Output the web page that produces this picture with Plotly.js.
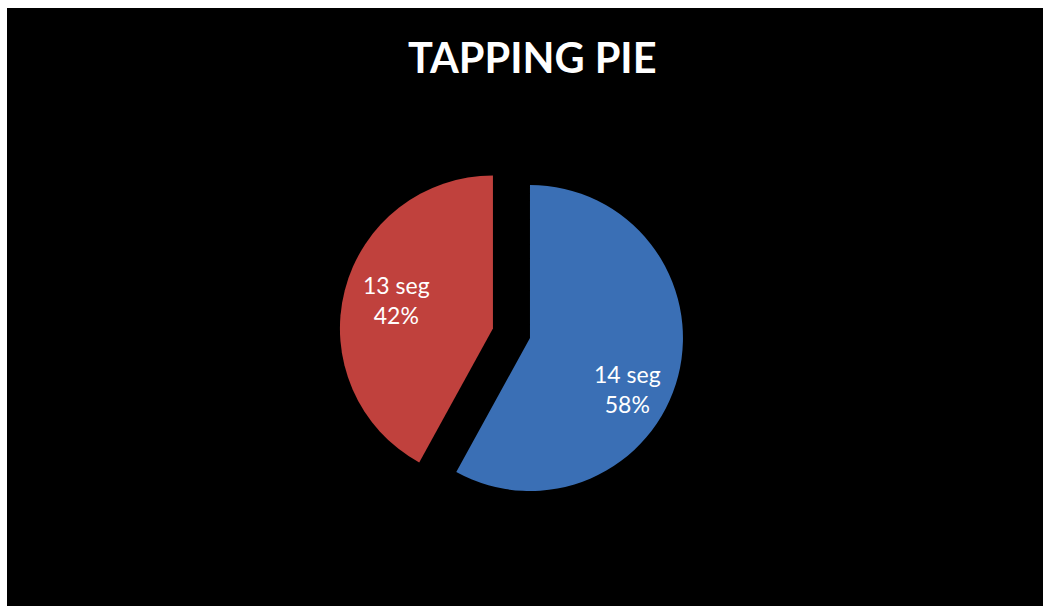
<!DOCTYPE html>
<html>
<head>
<meta charset="utf-8">
<script src="https://cdn.plot.ly/plotly-3.0.1.min.js"></script>
<style>
  html, body { margin: 0; padding: 0; background: #ffffff; }
  #chart { position: absolute; left: 7px; top: 8px; width: 1036px; height: 598px; background: #000; }
</style>
</head>
<body>
<div id="chart"></div>
<script>
const categories = ["14 seg", "13 seg"];
const values = [58, 42];
const sliceColors = ["#3a6fb5", "#c0413d"];
const pulls = [0, 0.25];

const total = values.reduce((a, b) => a + b, 0);
const labelText = categories.map((c, i) => c + "<br>" + Math.round(values[i] / total * 100) + "%");
const labelPos = [ { x: 0.5994, y: 0.3629 }, { x: 0.3764, y: 0.5117 } ];

const data = [{
  type: "pie",
  labels: categories,
  values: values,
  sort: false,
  direction: "clockwise",
  rotation: 0,
  pull: pulls,
  marker: { colors: sliceColors, line: { color: "rgba(0,0,0,0)", width: 0 } },
  textinfo: "none",
  hoverinfo: "none",
  domain: { x: [0.3202, 0.6894], y: [0.1284, 0.768] }
}];

const annotations = labelText.map((t, i) => ({
  text: t,
  x: labelPos[i].x, y: labelPos[i].y,
  xref: "paper", yref: "paper",
  xanchor: "center", yanchor: "middle",
  showarrow: false,
  align: "center",
  font: { family: "Lato, 'Open Sans', sans-serif", size: 23, color: "#ffffff" }
}));

const layout = {
  width: 1036,
  height: 598,
  paper_bgcolor: "#000000",
  plot_bgcolor: "#000000",
  margin: { l: 0, r: 0, t: 0, b: 0 },
  showlegend: false,
  annotations: annotations,
  title: {
    text: "<b>TAPPING PIE</b>",
    font: { family: "Lato, 'Open Sans', sans-serif", size: 41.5, color: "#ffffff" },
    x: 0.507, xanchor: "center",
    y: 0.915, yanchor: "middle",
    xref: "container", yref: "container"
  }
};

Plotly.newPlot("chart", data, layout, { staticPlot: true, displayModeBar: false });
</script>
</body>
</html>
